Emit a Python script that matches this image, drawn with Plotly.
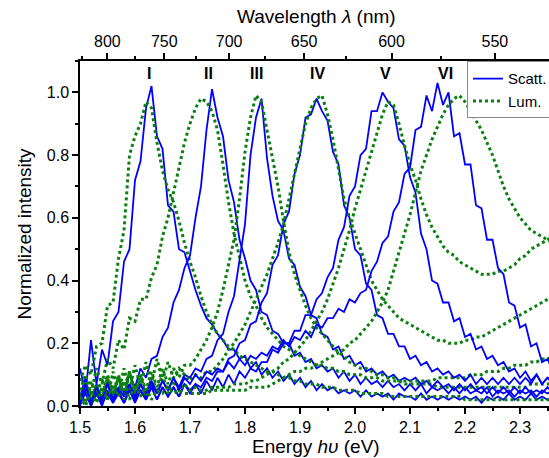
import numpy as np
import plotly.graph_objects as go

# Energy grid (eV), 1.50 ... 2.36 step 0.01
energy = np.round(np.arange(150, 237) / 100.0, 2)

scatt_I = [0.12, 0.04, 0.21, 0.07, 0.18, 0.13, 0.27, 0.30, 0.46, 0.50,
           0.72, 0.78, 0.95, 1.02, 0.86, 0.82, 0.64, 0.62, 0.50, 0.49,
           0.43, 0.37, 0.32, 0.28, 0.26, 0.23, 0.21, 0.18, 0.18, 0.15,
           0.16, 0.12, 0.14, 0.10, 0.12, 0.09, 0.11, 0.08, 0.10, 0.07,
           0.09, 0.06, 0.08, 0.05, 0.07, 0.05, 0.06, 0.04, 0.05, 0.04,
           0.05, 0.03, 0.05, 0.03, 0.04, 0.03, 0.04, 0.02, 0.04, 0.03,
           0.03, 0.02, 0.04, 0.02, 0.03, 0.02, 0.03, 0.02, 0.03, 0.02,
           0.03, 0.02, 0.03, 0.01, 0.03, 0.02, 0.03, 0.02, 0.04, 0.02,
           0.03, 0.02, 0.04, 0.02, 0.03, 0.02, 0.03]
scatt_II = [0.03, 0.09, 0.01, 0.07, 0.02, 0.08, 0.03, 0.09, 0.04, 0.10,
            0.06, 0.12, 0.09, 0.15, 0.16, 0.22, 0.25, 0.33, 0.37, 0.44,
            0.48, 0.60, 0.70, 0.88, 1.01, 0.92, 0.86, 0.72, 0.65, 0.53,
            0.47, 0.40, 0.37, 0.30, 0.29, 0.24, 0.23, 0.20, 0.20, 0.16,
            0.17, 0.14, 0.15, 0.12, 0.13, 0.11, 0.12, 0.09, 0.11, 0.08,
            0.10, 0.07, 0.09, 0.07, 0.08, 0.06, 0.08, 0.06, 0.07, 0.05,
            0.07, 0.05, 0.07, 0.04, 0.06, 0.05, 0.06, 0.04, 0.06, 0.04,
            0.06, 0.04, 0.05, 0.04, 0.06, 0.03, 0.05, 0.04, 0.05, 0.03,
            0.05, 0.04, 0.05, 0.03, 0.05, 0.04, 0.05]
scatt_III = [0.01, 0.06, 0.00, 0.05, 0.01, 0.07, 0.02, 0.05, 0.01, 0.06,
             0.02, 0.07, 0.03, 0.07, 0.04, 0.08, 0.05, 0.09, 0.06, 0.10,
             0.09, 0.12, 0.11, 0.15, 0.16, 0.21, 0.23, 0.30, 0.35, 0.47,
             0.58, 0.80, 0.92, 0.98, 0.79, 0.67, 0.59, 0.56, 0.47, 0.45,
             0.38, 0.35, 0.29, 0.28, 0.23, 0.22, 0.18, 0.19, 0.15, 0.16,
             0.13, 0.14, 0.11, 0.12, 0.10, 0.11, 0.09, 0.10, 0.08, 0.09,
             0.08, 0.09, 0.07, 0.08, 0.06, 0.08, 0.06, 0.07, 0.05, 0.07,
             0.05, 0.07, 0.05, 0.06, 0.04, 0.06, 0.04, 0.06, 0.04, 0.06,
             0.04, 0.06, 0.04, 0.05, 0.04, 0.06, 0.04]
scatt_IV = [0.00, 0.05, 0.01, 0.04, 0.00, 0.05, 0.01, 0.04, 0.01, 0.05,
            0.01, 0.05, 0.02, 0.06, 0.02, 0.06, 0.03, 0.06, 0.03, 0.07,
            0.05, 0.07, 0.06, 0.09, 0.08, 0.11, 0.11, 0.15, 0.16, 0.20,
            0.21, 0.26, 0.27, 0.33, 0.36, 0.45, 0.48, 0.58, 0.62, 0.74,
            0.80, 0.92, 0.93, 0.98, 0.94, 0.91, 0.81, 0.77, 0.64, 0.60,
            0.50, 0.48, 0.39, 0.37, 0.29, 0.28, 0.23, 0.23, 0.19, 0.19,
            0.15, 0.16, 0.13, 0.14, 0.11, 0.12, 0.10, 0.11, 0.09, 0.10,
            0.08, 0.10, 0.07, 0.09, 0.07, 0.09, 0.07, 0.09, 0.07, 0.09,
            0.07, 0.09, 0.07, 0.10, 0.07, 0.09, 0.08]
scatt_V = [0.01, 0.04, 0.00, 0.04, 0.01, 0.04, 0.01, 0.05, 0.01, 0.05,
           0.02, 0.05, 0.02, 0.06, 0.02, 0.06, 0.03, 0.06, 0.03, 0.07,
           0.04, 0.07, 0.04, 0.08, 0.05, 0.09, 0.06, 0.10, 0.07, 0.11,
           0.09, 0.12, 0.11, 0.14, 0.14, 0.18, 0.17, 0.20, 0.20, 0.24,
           0.24, 0.29, 0.29, 0.34, 0.36, 0.41, 0.44, 0.53, 0.57, 0.67,
           0.70, 0.80, 0.82, 0.94, 0.94, 1.00, 0.97, 0.95, 0.85, 0.83,
           0.73, 0.68, 0.55, 0.50, 0.40, 0.39, 0.33, 0.33, 0.27, 0.28,
           0.22, 0.23, 0.18, 0.19, 0.15, 0.16, 0.13, 0.14, 0.11, 0.12,
           0.09, 0.11, 0.08, 0.10, 0.07, 0.09, 0.07]
scatt_VI = [0.02, 0.07, 0.01, 0.06, 0.02, 0.07, 0.02, 0.06, 0.03, 0.07,
            0.03, 0.07, 0.04, 0.08, 0.04, 0.08, 0.05, 0.09, 0.05, 0.09,
            0.07, 0.10, 0.08, 0.11, 0.10, 0.12, 0.11, 0.14, 0.12, 0.15,
            0.13, 0.16, 0.15, 0.17, 0.16, 0.19, 0.18, 0.21, 0.19, 0.22,
            0.21, 0.24, 0.22, 0.26, 0.25, 0.28, 0.28, 0.31, 0.30, 0.34,
            0.33, 0.36, 0.37, 0.43, 0.46, 0.52, 0.54, 0.62, 0.65, 0.74,
            0.76, 0.88, 0.89, 0.99, 0.94, 1.03, 0.96, 1.00, 0.86, 0.87,
            0.77, 0.77, 0.64, 0.63, 0.53, 0.53, 0.44, 0.42, 0.33, 0.32,
            0.25, 0.26, 0.19, 0.20, 0.14, 0.15, 0.11]

lum_I = [0.08, 0.13, 0.10, 0.19, 0.20, 0.32, 0.33, 0.47, 0.56, 0.80,
         0.86, 0.90, 0.97, 0.95, 0.84, 0.75, 0.69, 0.65, 0.59, 0.52,
         0.46, 0.41, 0.35, 0.30, 0.26, 0.23, 0.21, 0.19, 0.18, 0.16,
         0.15, 0.14, 0.13, 0.12, 0.11, 0.11, 0.10, 0.09, 0.09, 0.08,
         0.08, 0.07, 0.07, 0.07, 0.06, 0.06, 0.06, 0.05, 0.05, 0.05,
         0.05, 0.04, 0.04, 0.04, 0.04, 0.04, 0.03, 0.03, 0.03, 0.03,
         0.03, 0.03, 0.03, 0.03, 0.03, 0.03, 0.03, 0.03, 0.03, 0.03,
         0.02, 0.02, 0.02, 0.02, 0.02, 0.02, 0.02, 0.02, 0.02, 0.02,
         0.02, 0.02, 0.02, 0.02, 0.02, 0.02, 0.02]
lum_II = [0.05, 0.10, 0.04, 0.12, 0.07, 0.15, 0.12, 0.21, 0.18, 0.28,
          0.27, 0.34, 0.34, 0.41, 0.45, 0.54, 0.60, 0.68, 0.77, 0.84,
          0.90, 0.95, 0.98, 0.97, 0.94, 0.88, 0.77, 0.65, 0.55, 0.47,
          0.40, 0.35, 0.32, 0.28, 0.25, 0.23, 0.21, 0.19, 0.18, 0.17,
          0.16, 0.15, 0.14, 0.13, 0.13, 0.12, 0.12, 0.11, 0.11, 0.10,
          0.10, 0.10, 0.09, 0.09, 0.09, 0.08, 0.08, 0.08, 0.08, 0.07,
          0.07, 0.07, 0.07, 0.07, 0.07, 0.06, 0.06, 0.06, 0.06, 0.06,
          0.06, 0.06, 0.06, 0.06, 0.06, 0.06, 0.06, 0.06, 0.06, 0.06,
          0.06, 0.06, 0.07, 0.07, 0.07, 0.07, 0.07]
lum_III = [0.03, 0.08, 0.02, 0.07, 0.03, 0.10, 0.04, 0.09, 0.05, 0.11,
           0.04, 0.10, 0.05, 0.11, 0.06, 0.12, 0.07, 0.12, 0.09, 0.13,
           0.13, 0.15, 0.18, 0.21, 0.25, 0.30, 0.37, 0.45, 0.53, 0.66,
           0.81, 0.92, 0.99, 0.97, 0.88, 0.80, 0.70, 0.59, 0.49, 0.42,
           0.37, 0.32, 0.28, 0.25, 0.23, 0.21, 0.19, 0.17, 0.16, 0.14,
           0.13, 0.12, 0.12, 0.11, 0.10, 0.10, 0.09, 0.09, 0.08, 0.08,
           0.08, 0.08, 0.08, 0.08, 0.08, 0.09, 0.09, 0.09, 0.09, 0.09,
           0.09, 0.10, 0.10, 0.10, 0.11, 0.11, 0.11, 0.12, 0.12, 0.13,
           0.13, 0.13, 0.14, 0.14, 0.15, 0.15, 0.16]
lum_IV = [0.04, 0.01, 0.08, 0.03, 0.09, 0.02, 0.11, 0.04, 0.12, 0.05,
          0.13, 0.06, 0.14, 0.07, 0.15, 0.08, 0.14, 0.09, 0.12, 0.10,
          0.08, 0.10, 0.09, 0.11, 0.11, 0.13, 0.15, 0.18, 0.20, 0.23,
          0.26, 0.30, 0.34, 0.38, 0.42, 0.47, 0.52, 0.58, 0.66, 0.75,
          0.83, 0.90, 0.95, 0.98, 0.99, 0.93, 0.85, 0.76, 0.66, 0.60,
          0.55, 0.50, 0.45, 0.40, 0.37, 0.34, 0.32, 0.30, 0.28, 0.27,
          0.26, 0.25, 0.24, 0.23, 0.22, 0.21, 0.21, 0.20, 0.20, 0.20,
          0.21, 0.21, 0.22, 0.22, 0.23, 0.24, 0.25, 0.26, 0.27, 0.28,
          0.29, 0.30, 0.31, 0.32, 0.33, 0.34, 0.35]
lum_V = [0.02, 0.07, 0.01, 0.06, 0.02, 0.09, 0.03, 0.10, 0.02, 0.11,
         0.04, 0.10, 0.03, 0.09, 0.05, 0.10, 0.04, 0.08, 0.05, 0.07,
         0.05, 0.06, 0.05, 0.05, 0.06, 0.06, 0.06, 0.06, 0.07, 0.07,
         0.07, 0.08, 0.08, 0.09, 0.10, 0.11, 0.12, 0.14, 0.15, 0.17,
         0.19, 0.21, 0.24, 0.27, 0.30, 0.34, 0.39, 0.44, 0.50, 0.56,
         0.63, 0.69, 0.75, 0.81, 0.87, 0.93, 0.97, 0.96, 0.90, 0.83,
         0.77, 0.72, 0.66, 0.61, 0.57, 0.54, 0.51, 0.49, 0.48, 0.46,
         0.45, 0.44, 0.43, 0.42, 0.42, 0.42, 0.43, 0.43, 0.44, 0.45,
         0.47, 0.48, 0.50, 0.51, 0.52, 0.53, 0.54]
lum_VI = [0.03, 0.00, 0.05, 0.01, 0.06, 0.02, 0.07, 0.03, 0.08, 0.02,
          0.07, 0.03, 0.06, 0.02, 0.05, 0.04, 0.06, 0.04, 0.05, 0.04,
          0.04, 0.04, 0.04, 0.04, 0.05, 0.05, 0.05, 0.05, 0.05, 0.05,
          0.05, 0.06, 0.06, 0.06, 0.06, 0.07, 0.08, 0.09, 0.10, 0.11,
          0.11, 0.12, 0.12, 0.13, 0.14, 0.15, 0.16, 0.17, 0.18, 0.20,
          0.21, 0.23, 0.25, 0.27, 0.30, 0.33, 0.37, 0.43, 0.49, 0.55,
          0.61, 0.68, 0.75, 0.80, 0.85, 0.89, 0.93, 0.96, 0.98, 0.99,
          0.97, 0.94, 0.91, 0.88, 0.84, 0.80, 0.75, 0.70, 0.66, 0.63,
          0.60, 0.58, 0.56, 0.55, 0.54, 0.53, 0.52]

peak_labels = ["I", "II", "III", "IV", "V", "VI"]
peak_label_energy = [1.625, 1.733, 1.820, 1.931, 2.055, 2.164]

wl_major = [800, 750, 700, 650, 600, 550]
wl_minor = [825, 775, 725, 675, 625, 575]
HC = 1239.84  # eV*nm

scatt = [scatt_I, scatt_II, scatt_III, scatt_IV, scatt_V, scatt_VI]
lum = [lum_I, lum_II, lum_III, lum_IV, lum_V, lum_VI]

BLUE = "#0000FF"
GREEN = "#0B8010"
FONT = "Liberation Sans, Arial, sans-serif"

fig = go.Figure()
for k in range(6):
    xa = "x2" if k == 5 else "x"   # last pair on the (identical-range) top axis so it renders
    fig.add_trace(go.Scatter(x=energy, y=scatt[k], mode="lines", xaxis=xa,
                             line=dict(color=BLUE, width=1.8),
                             name="Scatt.", showlegend=(k == 0)))
    fig.add_trace(go.Scatter(x=energy, y=lum[k], mode="lines", xaxis=xa,
                             line=dict(color=GREEN, width=3, dash="dot"),
                             name="Lum.", showlegend=(k == 0)))

xr = [1.5, 2.3527]
for lab, e in zip(peak_labels, peak_label_energy):
    fig.add_annotation(x=e, y=1.061, text="<b>%s</b>" % lab, showarrow=False,
                       font=dict(size=16, color="black", family=FONT),
                       xanchor="center", yanchor="middle")

# axis titles as paper annotations (exact placement)
fig.add_annotation(x=(24 - 80) / 469, y=0.5, xref="paper", yref="paper",
                   text="Normalized intensity", textangle=-90, showarrow=False,
                   font=dict(size=19), xanchor="center", yanchor="middle")
fig.add_annotation(x=(316 - 80) / 469, y=(406 - 447) / 345, xref="paper", yref="paper",
                   text="Energy <i>hυ</i> (eV)", showarrow=False,
                   font=dict(size=19), xanchor="center", yanchor="middle")
fig.add_annotation(x=(316 - 80) / 469, y=(406 - 17) / 345, xref="paper", yref="paper",
                   text="Wavelength <i>λ</i> (nm)", showarrow=False,
                   font=dict(size=19), xanchor="center", yanchor="middle")

axcommon = dict(showline=True, linecolor="black", linewidth=1.5,
                ticks="outside", ticklen=6, tickwidth=1.5, tickcolor="black",
                showgrid=False, zeroline=False, automargin=False,
                tickfont=dict(size=16))

fig.update_layout(
    width=549, height=458,
    margin=dict(l=80, r=0, t=61, b=52, autoexpand=False),
    paper_bgcolor="white", plot_bgcolor="white",
    font=dict(family=FONT, color="black", size=16),
    legend=dict(x=(467 - 80) / 469, y=0.999, xanchor="left", yanchor="top",
                bordercolor="#888888", borderwidth=1, bgcolor="white",
                font=dict(size=15), itemwidth=30, tracegroupgap=0),
    xaxis=dict(range=xr, tick0=1.5, dtick=0.1, tickformat=".1f",
               minor=dict(ticks="outside", ticklen=3, tickwidth=1.5, tickcolor="black",
                          tick0=1.5, dtick=0.05),
               **axcommon),
    xaxis2=dict(range=xr, overlaying="x", side="top", anchor="y",
                tickmode="array", tickvals=[HC / w for w in wl_major],
                ticktext=[str(w) for w in wl_major],
                minor=dict(ticks="outside", ticklen=3, tickwidth=1.5, tickcolor="black",
                           tickmode="array", tickvals=[HC / w for w in wl_minor]),
                **axcommon),
    yaxis=dict(range=[0, 1.1], tick0=0, dtick=0.2, tickformat=".1f",
               minor=dict(ticks="outside", ticklen=3, tickwidth=1.5, tickcolor="black",
                          tick0=0, dtick=0.1),
               **axcommon),
)

fig.write_html("out.html", config={"displayModeBar": False},
               post_script="document.body.style.margin='0';document.body.style.overflow='hidden';")
